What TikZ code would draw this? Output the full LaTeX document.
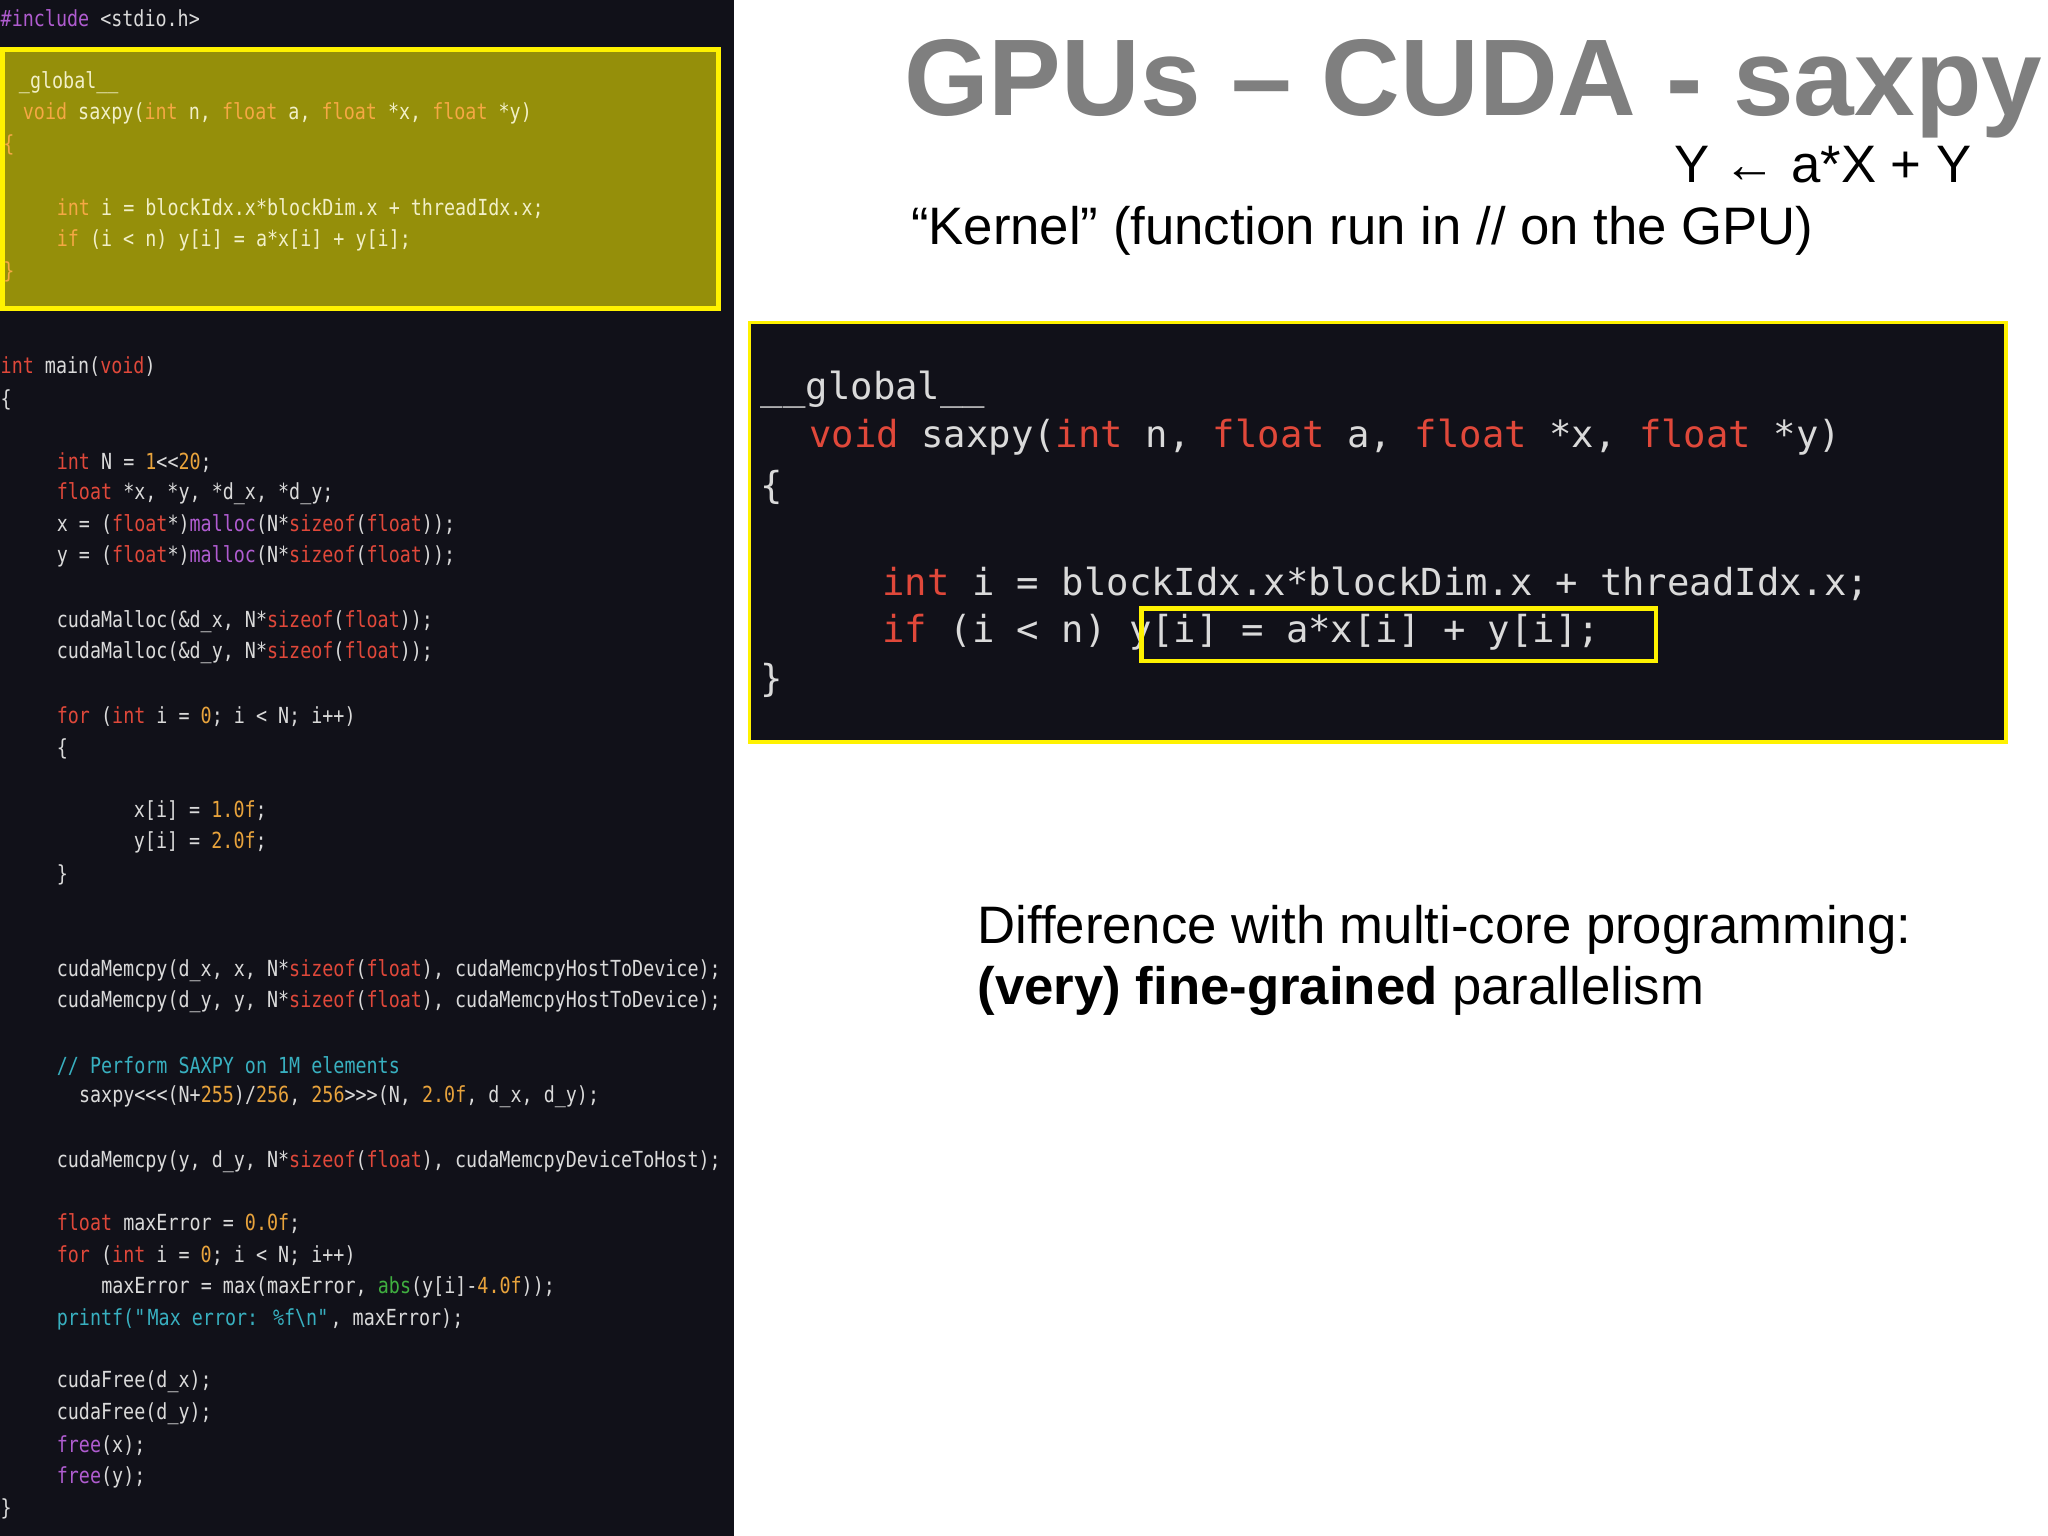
\documentclass[tikz,border=0pt]{standalone}
\usepackage{fontspec}
\setmainfont{Liberation Sans}
\newfontfamily\smallcode{DejaVu Sans Mono}[FakeStretch=0.83]
\newfontfamily\bigcode{DejaVu Sans Mono}
\definecolor{leftbg}{HTML}{111119}
\definecolor{codefg}{HTML}{DADADA}
\definecolor{kw}{HTML}{E0483A}
\definecolor{num}{HTML}{E8A33C}
\definecolor{fn}{HTML}{B05CD0}
\definecolor{cm}{HTML}{38B0C0}
\definecolor{gr}{HTML}{40B040}
\definecolor{olive}{HTML}{958F0A}
\definecolor{boxfg}{HTML}{F2F0C8}
\definecolor{boxkw}{HTML}{F5A844}
\definecolor{hl}{HTML}{FFF200}
\definecolor{titlegray}{HTML}{7F7F7F}
\newcommand{\K}[1]{\textcolor{kw}{#1}}
\newcommand{\NN}[1]{\textcolor{num}{#1}}
\newcommand{\FN}[1]{\textcolor{fn}{#1}}
\newcommand{\CM}[1]{\textcolor{cm}{#1}}
\newcommand{\GR}[1]{\textcolor{gr}{#1}}
\newcommand{\BK}[1]{\textcolor{boxkw}{#1}}
\begin{document}
\begin{tikzpicture}[x=0.013061cm,y=-0.013061cm,
  lc/.style={anchor=west,inner sep=0pt,text=codefg,font=\smallcode\fontsize{6.3pt}{7pt}\selectfont},
  bc/.style={lc,text=boxfg},
  big/.style={anchor=west,inner sep=0pt,text=codefg,font=\bigcode\fontsize{10.6pt}{12pt}\selectfont},
  txt/.style={anchor=west,inner sep=0pt,font=\fontsize{15pt}{18pt}\selectfont}]
\useasboundingbox (0,0) rectangle (1568,1176);
\fill[white] (0,0) rectangle (1568,1176);
\fill[leftbg] (0,0) rectangle (562,1176);
\draw[hl,line width=1.3pt,fill=olive] (2,38) rectangle (550,236);
\node[lc] (l1) at (0,14) {\FN{\#include} <stdio.h>};
\node[bc] (l2) at (14,63) {\_global\_\_};
\node[bc] (l3) at (17,87) {\BK{void} saxpy(\BK{int} n, \BK{float} a, \BK{float} *x, \BK{float} *y)};
\node[bc] (l4) at (2,111) {\BK{\{}};
\node[bc] (l5) at (43,160) {\BK{int} i = blockIdx.x*blockDim.x + threadIdx.x;};
\node[bc] (l6) at (43,184) {\BK{if} (i < n) y[i] = a*x[i] + y[i];};
\node[bc] (l7) at (2,208) {\BK{\}}};
\node[lc] (m1) at (0,281) {\K{int} main(\K{void})};
\node[lc] (m2) at (0,306) {\{};
\node[lc] (m3) at (43,354) {\K{int} N = \NN{1}<<\NN{20};};
\node[lc] (m4) at (43,378) {\K{float} *x, *y, *d\_x, *d\_y;};
\node[lc] (m5) at (43,402) {x = (\K{float}*)\FN{malloc}(N*\K{sizeof}(\K{float}));};
\node[lc] (m6) at (43,426) {y = (\K{float}*)\FN{malloc}(N*\K{sizeof}(\K{float}));};
\node[lc] (m7) at (43,476) {cudaMalloc(\&d\_x, N*\K{sizeof}(\K{float}));};
\node[lc] (m8) at (43,500) {cudaMalloc(\&d\_y, N*\K{sizeof}(\K{float}));};
\node[lc] (m9) at (43,549) {\K{for} (\K{int} i = \NN{0}; i < N; i++)};
\node[lc] (m10) at (43,573) {\{};
\node[lc] (m11) at (102,621) {x[i] = \NN{1.0f};};
\node[lc] (m12) at (102,645) {y[i] = \NN{2.0f};};
\node[lc] (m13) at (43,670) {\}};
\node[lc] (m14) at (43,743) {cudaMemcpy(d\_x, x, N*\K{sizeof}(\K{float}), cudaMemcpyHostToDevice);};
\node[lc] (m15) at (43,767) {cudaMemcpy(d\_y, y, N*\K{sizeof}(\K{float}), cudaMemcpyHostToDevice);};
\node[lc] (m16) at (43,816) {\CM{// Perform SAXPY on 1M elements}};
\node[lc] (m17) at (60,840) {saxpy<<<(N+\NN{255})/\NN{256}, \NN{256}>>>(N, \NN{2.0f}, d\_x, d\_y);};
\node[lc] (m18) at (43,889) {cudaMemcpy(y, d\_y, N*\K{sizeof}(\K{float}), cudaMemcpyDeviceToHost);};
\node[lc] (m19) at (43,937) {\K{float} maxError = \NN{0.0f};};
\node[lc] (m20) at (43,961) {\K{for} (\K{int} i = \NN{0}; i < N; i++)};
\node[lc] (m21) at (77,986) {maxError = max(maxError, \GR{abs}(y[i]-\NN{4.0f}));};
\node[lc] (m22) at (43,1010) {\CM{printf(\textquotedbl Max error: \%f\textbackslash n\textquotedbl}, maxError);};
\node[lc] (m23) at (43,1058) {cudaFree(d\_x);};
\node[lc] (m24) at (43,1082) {cudaFree(d\_y);};
\node[lc] (m25) at (43,1107) {\FN{free}(x);};
\node[lc] (m26) at (43,1131) {\FN{free}(y);};
\node[lc] (m27) at (0,1155) {\}};
% right side
\node[anchor=center,inner sep=0pt,text=titlegray,font=\bfseries\fontsize{31pt}{36pt}\selectfont] (title) at (1128,68) {GPUs – CUDA - saxpy};
\node[anchor=east,inner sep=0pt,font=\fontsize{15pt}{18pt}\selectfont] (eq) at (1510,126) {Y ← a*X + Y};
\node[anchor=center,inner sep=0pt,font=\fontsize{15pt}{18pt}\selectfont] (kern) at (1043,177) {“Kernel” (function run in // on the GPU)};
\draw[hl,line width=1pt,fill=leftbg] (574,247) rectangle (1536,568);
\node[big] (b1) at (582,298) {\_\_global\_\_};
\node[big] (b2) at (619,335) {\K{void} saxpy(\K{int} n, \K{float} a, \K{float} *x, \K{float} *y)};
\node[big] (b3) at (582,373) {\{};
\node[big] (b4) at (675,447) {\K{int} i = blockIdx.x*blockDim.x + threadIdx.x;};
\node[big] (b5) at (675,484) {\K{if} (i < n) y[i] = a*x[i] + y[i];};
\node[big] (b6) at (582,521) {\}};
\draw[hl,line width=1.3pt] (874,466) rectangle (1268,506);
\node[txt] (d1) at (748,712) {Difference with multi-core programming:};
\node[txt] (d2) at (748,759) {\textbf{(very) fine-grained} parallelism};
\end{tikzpicture}
\end{document}
